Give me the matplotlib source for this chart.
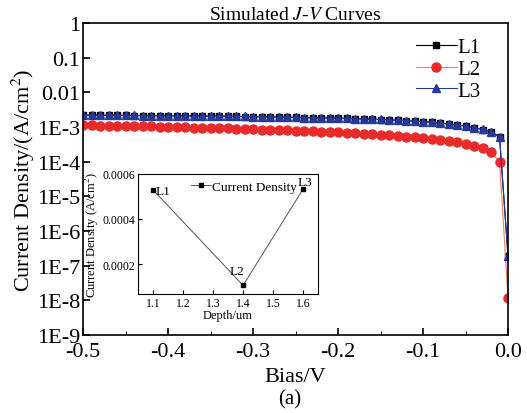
import numpy as np
import matplotlib.pyplot as plt
from matplotlib.ticker import FixedLocator, FixedFormatter, LogLocator, MultipleLocator, NullFormatter

# --- Global Plotting Settings ---
plt.rcParams['font.family'] = 'serif'
plt.rcParams['font.serif'] = ['Liberation Serif', 'DejaVu Serif']
plt.rcParams['mathtext.fontset'] = 'stix'

# --- Data ---
bias = [-0.50, -0.49, -0.48, -0.47, -0.46, -0.45, -0.44, -0.43, -0.42, -0.41,
        -0.40, -0.39, -0.38, -0.37, -0.36, -0.35, -0.34, -0.33, -0.32, -0.31,
        -0.30, -0.29, -0.28, -0.27, -0.26, -0.25, -0.24, -0.23, -0.22, -0.21,
        -0.20, -0.19, -0.18, -0.17, -0.16, -0.15, -0.14, -0.13, -0.12, -0.11,
        -0.10, -0.09, -0.08, -0.07, -0.06, -0.05, -0.04, -0.03, -0.02, -0.01, 0.00]

j_L1 = [2.21e-3, 2.20e-3, 2.19e-3, 2.18e-3, 2.17e-3, 2.16e-3, 2.15e-3, 2.14e-3, 2.13e-3, 2.12e-3,
        2.11e-3, 2.10e-3, 2.09e-3, 2.08e-3, 2.07e-3, 2.06e-3, 2.05e-3, 2.04e-3, 2.02e-3, 2.01e-3,
        1.99e-3, 1.97e-3, 1.95e-3, 1.93e-3, 1.91e-3, 1.89e-3, 1.87e-3, 1.85e-3, 1.83e-3, 1.81e-3,
        1.79e-3, 1.77e-3, 1.74e-3, 1.71e-3, 1.68e-3, 1.65e-3, 1.61e-3, 1.57e-3, 1.53e-3, 1.48e-3,
        1.43e-3, 1.37e-3, 1.30e-3, 1.23e-3, 1.15e-3, 1.06e-3, 9.6e-4, 8.5e-4, 7.3e-4, 5.2e-4, 1.9e-7]

j_L2 = [1.12e-3, 1.11e-3, 1.10e-3, 1.09e-3, 1.08e-3, 1.07e-3, 1.06e-3, 1.05e-3, 1.04e-3, 1.03e-3,
        1.02e-3, 1.00e-3, 9.9e-4, 9.7e-4, 9.6e-4, 9.4e-4, 9.3e-4, 9.1e-4, 9.0e-4, 8.8e-4,
        8.7e-4, 8.5e-4, 8.4e-4, 8.2e-4, 8.0e-4, 7.9e-4, 7.7e-4, 7.5e-4, 7.4e-4, 7.2e-4,
        7.0e-4, 6.8e-4, 6.6e-4, 6.4e-4, 6.2e-4, 6.0e-4, 5.8e-4, 5.6e-4, 5.3e-4, 5.1e-4,
        4.8e-4, 4.6e-4, 4.3e-4, 4.0e-4, 3.6e-4, 3.3e-4, 2.9e-4, 2.5e-4, 1.85e-4, 1.0e-4, 1.2e-8]

j_L3 = [2.22e-3, 2.21e-3, 2.20e-3, 2.19e-3, 2.18e-3, 2.17e-3, 2.16e-3, 2.15e-3, 2.14e-3, 2.13e-3,
        2.12e-3, 2.11e-3, 2.10e-3, 2.09e-3, 2.08e-3, 2.07e-3, 2.06e-3, 2.05e-3, 2.03e-3, 2.02e-3,
        2.00e-3, 1.98e-3, 1.96e-3, 1.94e-3, 1.92e-3, 1.90e-3, 1.88e-3, 1.86e-3, 1.84e-3, 1.82e-3,
        1.80e-3, 1.78e-3, 1.75e-3, 1.72e-3, 1.69e-3, 1.66e-3, 1.62e-3, 1.58e-3, 1.54e-3, 1.49e-3,
        1.44e-3, 1.38e-3, 1.31e-3, 1.24e-3, 1.16e-3, 1.07e-3, 9.7e-4, 8.6e-4, 7.4e-4, 5.3e-4, 1.9e-7]

y_ticks = [1, 0.1, 0.01, 1e-3, 1e-4, 1e-5, 1e-6, 1e-7, 1e-8, 1e-9]
y_tick_labels = ['1', '0.1', '0.01', '1E-3', '1E-4', '1E-5', '1E-6', '1E-7', '1E-8', '1E-9']

depth = [1.1, 1.4, 1.6]
depth_density = [0.000529, 0.000105, 0.000533]
depth_names = ['L1', 'L2', 'L3']

# --- Main figure ---
fig = plt.figure(figsize=(5.27, 4.14), dpi=100)
ax = fig.add_axes([0.1575, 0.188, 0.8065, 0.754])

ax.plot(bias, j_L1, '-s', color='black', lw=0.8, ms=5, label='L1')
ax.plot(bias, j_L2, '-o', color='#f07a6a', mfc='#e82a2a', mec='#e82a2a', lw=0.8, ms=6.5, label='L2')
ax.plot(bias, j_L3, '-^', color='#26399a', lw=0.8, ms=6, label='L3')

ax.set_yscale('log')
ax.set_ylim(1e-9, 1)
ax.set_xlim(-0.5, 0.0)
ax.yaxis.set_major_locator(FixedLocator(y_ticks))
ax.yaxis.set_major_formatter(FixedFormatter(y_tick_labels))
ax.yaxis.set_minor_locator(LogLocator(base=10, subs=np.arange(2, 10)))
ax.yaxis.set_minor_formatter(NullFormatter())
ax.xaxis.set_major_locator(MultipleLocator(0.1))
ax.xaxis.set_minor_locator(MultipleLocator(0.05))
ax.xaxis.set_major_formatter(plt.FuncFormatter(lambda v, p: '%.1f' % v))
ax.tick_params(which='both', direction='in', top=False, right=False)
ax.tick_params(which='major', length=5, width=1.2, labelsize=16)
ax.tick_params(axis='x', which='major', pad=5)
ax.tick_params(axis='y', which='major', pad=2)
ax.tick_params(which='minor', length=3, width=0.8)
for s in ax.spines.values():
    s.set_linewidth(1.2)

ax.set_xlabel('Bias/V', fontsize=16, labelpad=4)
ax.set_ylabel('Current Density/(A/cm$^2$)', fontsize=16, labelpad=0)
ax.set_title('Simulated $\\mathit{J}$-$\\mathit{V}$ Curves', fontsize=14, pad=2)
ax.legend(loc='upper right', bbox_to_anchor=(0.955, 0.98), frameon=False, fontsize=15,
          handlelength=2.0, handletextpad=0.0, labelspacing=0.1, borderaxespad=0)
fig.text(0.55, 0.035, '(a)', ha='center', va='center', fontsize=15)

# --- Inset: current density vs depth ---
ins = fig.add_axes([0.262, 0.2874, 0.3416, 0.29])
ins.plot(depth, depth_density, '-s', color='#555555', mfc='black', mec='black', lw=0.7, ms=3,
         label='Current Density')
ins.set_xlim(1.05, 1.65)
ins.set_ylim(0.0000667, 0.0006)
ins.set_xticks([1.1, 1.2, 1.3, 1.4, 1.5, 1.6])
ins.set_yticks([0.0002, 0.0004, 0.0006])
ins.yaxis.set_major_formatter(plt.FuncFormatter(lambda v, p: '%.4f' % v))
ins.tick_params(direction='in', labelsize=8.5, length=3, pad=2)
ins.set_xlabel('Depth/um', fontsize=9, labelpad=0)
ins.set_ylabel('Current Density (A/cm$^2$)', fontsize=9, labelpad=1)
ins.legend(loc='upper right', frameon=False, fontsize=9.5, handlelength=1.5, handletextpad=0.1,
           borderaxespad=0.1, bbox_to_anchor=(0.92, 1.0))
ins.annotate(depth_names[0], (depth[0], depth_density[0]), xytext=(2, -3),
             textcoords='offset points', fontsize=9.5)
ins.annotate(depth_names[1], (depth[1], depth_density[1]), xytext=(-10, 8),
             textcoords='offset points', fontsize=9.5)
ins.annotate(depth_names[2], (depth[2], depth_density[2]), xytext=(-4, 3),
             textcoords='offset points', fontsize=9.5)

plt.savefig('out.png', dpi=100)
